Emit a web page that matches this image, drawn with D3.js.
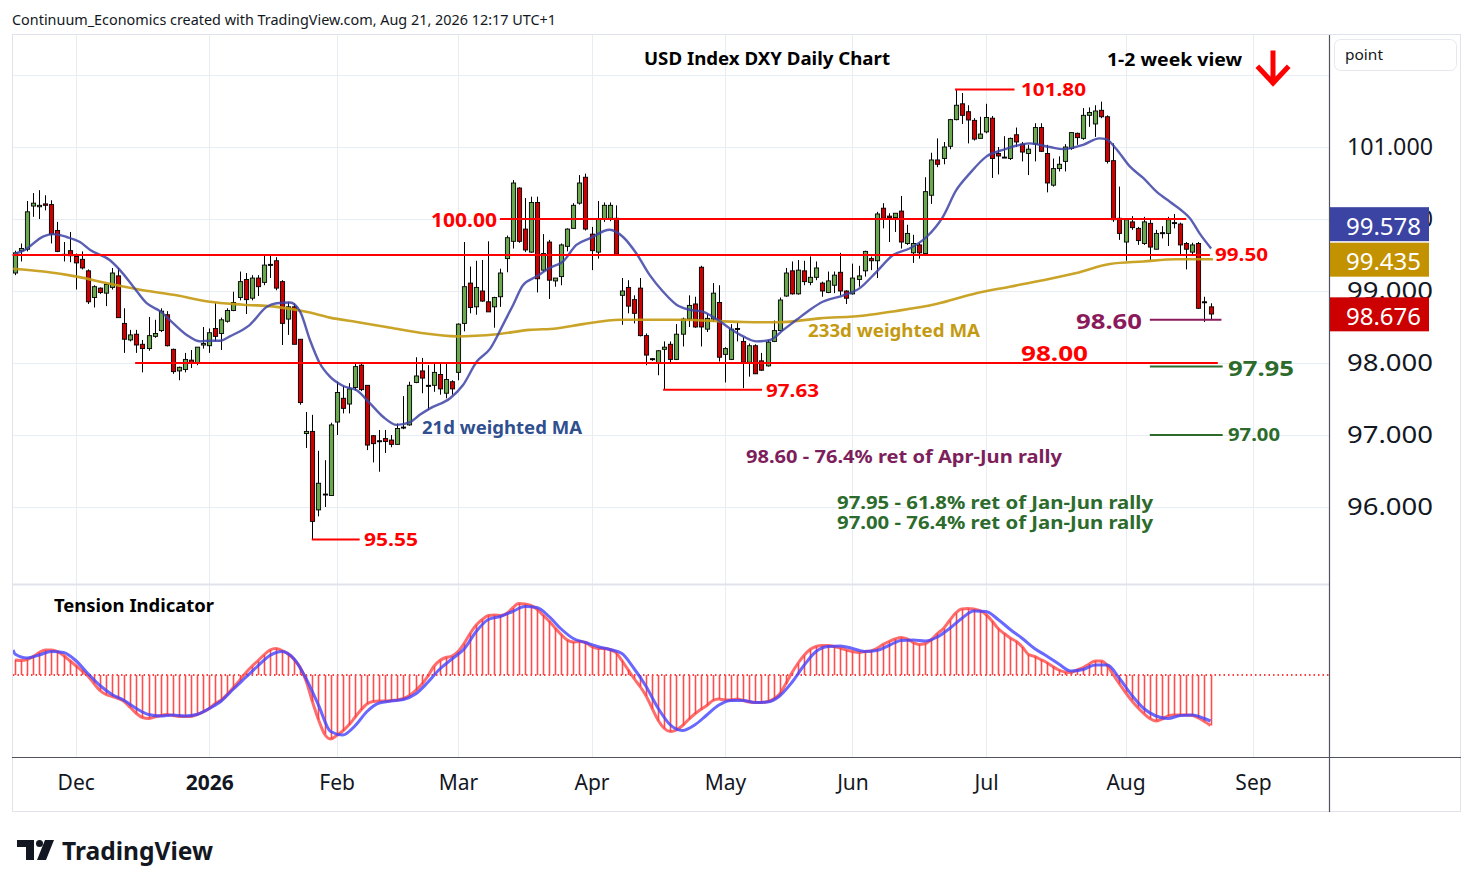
<!DOCTYPE html>
<html><head><meta charset="utf-8">
<script src="https://cdn.jsdelivr.net/npm/d3@7"></script>
<style>body{margin:0;background:#fff}svg{display:block}</style>
</head><body>
<svg id="c" width="1474" height="887"></svg>
<script>
// ---------- DATA ----------
const monthLabels = ["Dec","2026","Feb","Mar","Apr","May","Jun","Jul","Aug","Sep"];
const monthBars   = [10,32,53,73,95,117,138,160,183,204];
const priceTicks  = [96,97,98,99,100,101];
const gridPrices  = [96,97,98,99,100,101,102];

const opens = [99.25,99.56,99.58,100.18,100.17,100.21,100.20,99.84,99.51,99.56,
99.48,99.44,99.28,98.91,99.04,98.97,99.05,99.21,98.55,98.32,
98.40,98.26,98.20,98.37,98.45,98.67,98.19,97.89,97.91,98.04,
98.00,98.25,98.24,98.48,98.41,98.58,98.73,98.91,99.16,98.90,
99.18,99.12,99.37,99.42,99.13,98.61,98.78,98.33,97.02,97.05,
95.96,96.18,96.16,97.18,97.51,97.43,97.66,97.97,97.69,96.99,
96.92,96.95,96.93,96.87,97.10,97.14,97.73,97.89,97.69,97.69,
97.84,97.58,97.74,97.87,98.55,99.11,98.78,99.00,98.85,98.78,
98.92,99.45,99.69,100.43,99.86,99.54,100.23,99.29,99.68,99.14,
99.20,99.62,99.87,100.22,100.58,99.79,99.54,100.00,100.01,100.01,
98.94,99.05,98.88,99.04,98.38,98.06,98.00,98.19,98.26,98.05,
98.40,98.61,98.82,99.33,98.47,98.61,98.84,98.12,98.05,98.48,
98.30,98.01,98.24,98.03,97.96,98.30,98.45,98.93,99.28,98.96,
99.28,99.12,99.19,99.11,98.98,99.08,99.26,99.00,98.96,99.16,
99.28,99.45,99.42,100.15,100.04,100.02,100.11,99.66,99.53,99.64,
99.52,100.33,100.82,100.84,101.01,101.38,101.60,101.49,101.37,101.12,
101.21,101.40,100.91,100.86,100.84,101.17,101.04,100.91,101.04,101.27,
100.91,100.47,100.70,100.80,100.98,101.19,101.12,101.44,101.32,101.51,
101.42,100.81,100.01,99.68,99.96,99.87,99.66,99.94,99.58,99.81,
99.80,99.94,99.93,99.66,99.54,99.66,98.85,98.78];
const highs = [99.56,99.66,100.25,100.36,100.40,100.33,100.26,99.96,99.68,99.82,
99.52,99.55,99.30,99.08,99.05,99.10,99.32,99.32,98.76,98.46,
98.46,98.32,98.64,98.60,98.76,98.72,98.20,97.95,98.14,98.18,
98.22,98.50,98.48,98.83,98.63,98.76,98.99,99.27,99.25,99.22,
99.22,99.50,99.50,99.47,99.15,98.85,98.83,98.33,97.32,97.28,
96.78,96.65,97.17,97.74,97.68,97.72,97.99,97.99,97.69,97.00,
97.07,97.07,97.00,97.16,97.54,97.74,98.08,98.07,97.97,97.99,
97.99,97.99,97.76,98.55,99.68,99.34,99.42,99.43,99.69,98.92,
99.31,99.77,100.54,100.44,100.29,100.31,100.31,99.79,99.71,99.18,
99.66,99.87,100.22,100.61,100.63,99.89,100.25,100.23,100.23,100.19,
99.18,99.15,98.94,99.18,98.41,98.07,98.18,98.30,98.30,98.54,
98.63,98.94,98.92,99.35,98.68,99.11,99.08,98.22,98.54,98.56,
98.36,98.27,98.26,98.14,98.32,98.59,98.91,99.32,99.41,99.43,
99.42,99.48,99.41,99.13,99.27,99.27,99.53,99.01,99.38,99.35,
99.56,99.48,100.10,100.22,100.08,100.08,100.32,99.92,99.78,99.67,
100.58,100.92,101.12,101.07,101.39,101.80,101.75,101.58,101.40,101.42,
101.60,101.43,101.00,101.15,101.13,101.27,101.07,101.03,101.33,101.33,
101.03,100.84,100.87,101.04,101.20,101.20,101.54,101.55,101.58,101.63,
101.44,101.05,100.45,100.00,100.04,99.89,100.03,99.99,99.85,99.90,
100.03,100.07,99.95,99.68,99.67,99.68,98.92,98.83];
const lows = [99.22,99.41,99.55,100.03,100.00,100.12,99.66,99.54,99.41,99.40,
99.02,99.30,98.82,98.77,98.96,98.79,99.02,98.63,98.14,98.30,
98.14,97.87,98.17,98.35,98.43,98.23,97.85,97.76,97.87,97.93,
97.97,98.20,98.14,98.30,98.18,98.56,98.72,98.87,98.68,98.87,
98.93,99.08,99.18,99.01,98.25,98.39,98.26,97.42,96.82,95.55,
95.87,96.00,96.16,97.00,97.30,97.30,97.62,97.61,96.79,96.62,
96.49,96.75,96.83,96.87,97.08,97.13,97.72,97.58,97.35,97.60,
97.56,97.51,97.56,97.76,98.44,98.69,98.67,98.85,98.71,98.49,
98.78,99.26,99.59,99.67,99.54,99.53,98.98,99.27,98.89,99.06,
99.08,99.55,99.87,100.20,99.84,99.29,99.45,99.96,99.97,99.50,
98.53,98.69,98.55,98.37,97.97,98.03,97.83,97.63,98.00,98.04,
98.23,98.50,98.49,98.23,98.43,98.57,98.02,97.73,98.04,98.30,
97.65,97.81,97.85,97.89,97.95,98.29,98.45,98.92,98.95,98.95,
99.08,99.08,99.15,98.92,98.97,98.97,98.94,98.82,98.95,99.06,
99.20,99.29,99.18,99.87,99.68,99.82,99.59,99.64,99.39,99.45,
99.51,100.21,100.72,100.76,100.97,101.37,101.32,101.05,101.09,101.12,
101.19,100.57,100.62,100.85,100.82,101.00,100.80,100.61,100.80,100.93,
100.37,100.45,100.66,100.66,100.96,101.03,101.10,101.28,101.14,101.40,
100.77,99.96,99.71,99.42,99.85,99.64,99.64,99.43,99.58,99.73,
99.625,99.87,99.50,99.30,99.50,98.75,98.57,98.60];
const closes = [99.53,99.59,100.10,100.22,100.19,100.19,99.79,99.55,99.50,99.49,
99.39,99.32,98.85,99.06,98.98,99.09,99.25,98.63,98.33,98.39,
98.25,98.20,98.38,98.41,98.72,98.24,97.88,97.94,98.05,98.00,
98.22,98.27,98.42,98.37,98.60,98.73,98.84,99.13,98.88,99.18,
99.06,99.36,99.37,99.04,98.55,98.78,98.26,97.45,97.05,95.80,
96.33,96.17,97.14,97.59,97.37,97.64,97.95,97.63,96.86,96.88,
96.91,96.91,96.87,97.09,97.11,97.69,97.82,97.79,97.69,97.87,
97.64,97.77,97.64,98.54,99.06,98.77,99.05,98.86,98.71,98.91,
99.25,99.74,100.50,99.69,99.57,100.23,99.17,99.52,99.15,99.18,
99.64,99.86,100.19,100.50,99.86,99.56,100.00,100.19,100.19,99.51,
99.00,98.79,98.69,98.38,98.11,98.05,98.17,98.22,98.05,98.40,
98.61,98.80,98.50,98.50,98.62,98.97,98.08,98.20,98.47,98.47,
98.01,98.24,97.85,97.90,98.29,98.45,98.875,99.25,98.96,99.29,
99.13,99.19,99.32,99.00,99.14,99.22,99.00,98.90,99.18,99.21,
99.55,99.42,100.07,100.01,100.02,100.08,99.68,99.80,99.66,99.53,
100.38,100.82,100.76,101.00,101.38,101.58,101.44,101.375,101.11,101.18,
101.41,100.84,100.875,100.86,101.12,101.07,100.93,100.97,101.27,100.94,
100.50,100.70,100.76,101.00,101.20,101.13,101.44,101.48,101.50,101.42,
100.80,99.99,99.80,99.99,99.88,99.70,99.96,99.61,99.80,99.81,
99.99,99.95,99.64,99.58,99.64,98.76,98.85,98.68];

// 21d weighted MA (bar position, value)
const ma21Bars = [0,1.4,4.7,6.3,8.5,10.7,12.4,15.6,17.3,19.5,21.7,23.9,26.1,28.3,30.5,32.1,33.8,35.4,38.7,41.5,43.1,45.3,47,48.6,50.2,51.9,54.1,56.3,58.5,60.7,62.9,65.1,66.7,68.4,71.7,73.8,76.1,78.3,80.4,82.1,83.7,85.9,88.1,90.3,92.5,94.7,98,100.2,102.4,104.6,106.8,109,111.2,113.4,115.6,117.8,120,122.2,124.4,126.6,128.8,131,133.1,136.5,139.2,142,144.7,147.4,150.2,152.9,155.1,157.3,160.1,162.8,165.6,167.2,170.5,172.7,176,178.7,179.8,181.4,183.7,185.9,188.1,190.3,192.5,193.6,195.2,197.1];
const ma21Vals = [99.52,99.56,99.76,99.79,99.75,99.68,99.57,99.43,99.29,99.06,98.83,98.72,98.55,98.39,98.30,98.31,98.31,98.37,98.53,98.78,98.83,98.84,98.71,98.32,98.00,97.81,97.68,97.62,97.44,97.25,97.14,97.18,97.28,97.37,97.51,97.69,98.02,98.20,98.53,98.81,99.08,99.20,99.32,99.41,99.64,99.73,99.85,99.75,99.52,99.22,98.99,98.81,98.74,98.71,98.61,98.48,98.37,98.30,98.32,98.46,98.60,98.74,98.85,98.94,99.04,99.27,99.50,99.59,99.75,100.03,100.40,100.63,100.87,100.96,101.03,101.05,101.00,100.97,101.03,101.12,101.11,100.98,100.73,100.57,100.38,100.24,100.10,100.01,99.80,99.59];

// 233d weighted MA
const ma233Bars = [-0.3,4.7,10.2,15.6,21.1,26.6,32.1,37.6,43.1,48.6,51.9,56.3,61.2,66.7,72.8,79.4,84.8,89.2,93.6,99.7,109,120,125.5,132.6,140,145,151.8,158.4,163.9,169.4,174.9,180.4,185.9,191.4,197.4];
const ma233Vals = [99.31,99.27,99.20,99.10,99.01,98.94,98.85,98.81,98.78,98.70,98.63,98.57,98.50,98.42,98.37,98.40,98.46,98.48,98.54,98.60,98.60,98.57,98.565,98.62,98.66,98.72,98.82,98.97,99.06,99.15,99.25,99.375,99.41,99.44,99.44];

// Tension indicator (per bar) and its signal line
const tension = [0.30,0.29,0.31,0.37,0.45,0.50,0.50,0.47,0.39,0.29,
0.19,0.09,-0.02,-0.17,-0.31,-0.39,-0.43,-0.47,-0.53,-0.65,
-0.77,-0.85,-0.87,-0.84,-0.81,-0.79,-0.81,-0.83,-0.83,-0.83,
-0.79,-0.74,-0.67,-0.57,-0.50,-0.38,-0.25,-0.11,0.04,0.17,
0.28,0.40,0.50,0.53,0.49,0.42,0.31,0.15,-0.13,-0.53,
-0.89,-1.18,-1.28,-1.21,-1.12,-1.00,-0.85,-0.70,-0.58,-0.53,
-0.52,-0.52,-0.51,-0.50,-0.47,-0.41,-0.31,-0.19,-0.03,0.17,
0.29,0.35,0.38,0.47,0.63,0.83,1.00,1.11,1.19,1.20,
1.19,1.23,1.34,1.43,1.42,1.39,1.32,1.20,1.08,0.94,
0.81,0.70,0.66,0.67,0.65,0.57,0.53,0.53,0.51,0.45,
0.29,0.11,-0.07,-0.23,-0.42,-0.67,-0.91,-1.07,-1.13,-1.10,
-1.01,-0.89,-0.78,-0.69,-0.61,-0.51,-0.48,-0.50,-0.50,-0.48,
-0.51,-0.54,-0.55,-0.55,-0.53,-0.48,-0.38,-0.18,0.04,0.23,
0.39,0.51,0.57,0.59,0.59,0.57,0.54,0.50,0.47,0.45,
0.47,0.48,0.53,0.61,0.67,0.72,0.75,0.72,0.65,0.61,
0.63,0.71,0.83,0.93,1.09,1.24,1.32,1.33,1.32,1.29,
1.21,1.08,0.93,0.83,0.74,0.67,0.56,0.41,0.37,0.31,
0.25,0.17,0.10,0.06,0.05,0.10,0.15,0.22,0.28,0.28,
0.19,0.00,-0.18,-0.35,-0.51,-0.65,-0.77,-0.87,-0.92,-0.88,
-0.82,-0.80,-0.80,-0.80,-0.81,-0.86,-0.93,-1.01];
const signalBars = [-0.3,0,2,4,6,8,10,12,14,16,18,20,22,24,26,28,30,32,34,36,38,40,42,44,46,48,50,52,54,56,58,60,62,64,66,68,70,72,74,76,78,80,82,84,86,88,90,92,94,96,98,100,102,104,106,108,110,112,114,116,118,120,122,124,126,128,130,132,134,136,138,140,142,144,146,148,150,152,154,156,158,160,162,164,166,168,170,172,174,176,178,180,182,184,186,188,190,192,194,196,197];
const signalVals = [0.50,0.42,0.34,0.40,0.47,0.45,0.29,0.03,-0.21,-0.39,-0.51,-0.67,-0.79,-0.82,-0.80,-0.82,-0.79,-0.67,-0.52,-0.28,-0.05,0.18,0.39,0.47,0.32,-0.08,-0.60,-1.13,-1.20,-1.02,-0.73,-0.56,-0.52,-0.49,-0.38,-0.15,0.12,0.32,0.52,0.87,1.11,1.17,1.27,1.37,1.35,1.17,0.92,0.73,0.65,0.57,0.51,0.43,0.13,-0.23,-0.67,-1.00,-1.11,-1.00,-0.80,-0.60,-0.51,-0.51,-0.55,-0.54,-0.42,-0.15,0.19,0.47,0.57,0.58,0.53,0.47,0.49,0.59,0.69,0.70,0.68,0.76,0.93,1.13,1.28,1.27,1.11,0.91,0.73,0.53,0.38,0.22,0.08,0.11,0.20,0.20,-0.07,-0.40,-0.67,-0.82,-0.87,-0.81,-0.80,-0.87,-0.92];

// Horizontal levels: [price, fromBar, toBar, color]
const levels = [
  [100.00, 79.9, 193.0, "#ff0000"],
  [99.50, -0.4, 196.9, "#ff0000"],
  [98.00, 19.8, 198.2, "#ff0000"],
  [101.80, 154.9, 164.7, "#ff0000"],
  [95.55, 48.9, 56.8, "#ff0000"],
  [97.63, 106.8, 123.1, "#ff0000"],
  [98.60, 187.0, 198.8, "#8b1a5c"],
  [97.95, 187.0, 199.0, "#2c6b2c"],
  [97.00, 187.0, 199.0, "#2c6b2c"]
];
const lastPrice = 98.676, ma21Last = 99.578, ma233Last = 99.435;

// ---------- DRAWING ----------
const svg = d3.select("#c");
const FONT = "'Noto Sans', 'DejaVu Sans', sans-serif";
const x  = d3.scaleLinear().domain([0, 204]).range([15, 1253]);
const y  = d3.scaleLinear().domain([96, 101]).range([507, 147]);
const yT = d3.scaleLinear().domain([-1.5, 1.5]).range([750, 600]);
const L = 13, R = 1329.5, TOP = 35, MB = 583, TT = 585, TB = 757.5;

svg.append("rect").attr("width",1474).attr("height",887).attr("fill","#fff");
const defs = svg.append("defs");
defs.append("clipPath").attr("id","cm").append("rect").attr("x",L).attr("y",TOP).attr("width",R-L).attr("height",MB-TOP);
defs.append("clipPath").attr("id","ct").append("rect").attr("x",L).attr("y",TT).attr("width",R-L).attr("height",TB-TT);

// grid
const grid = svg.append("g").attr("stroke","#e8edf3").attr("stroke-width",1);
gridPrices.forEach(p => grid.append("line").attr("x1",L).attr("x2",R).attr("y1",Math.round(y(p))+0.5).attr("y2",Math.round(y(p))+0.5));
monthBars.forEach(b => grid.append("line").attr("x1",Math.round(x(b))+0.5).attr("x2",Math.round(x(b))+0.5).attr("y1",TOP).attr("y2",TB));

// frame
svg.append("rect").attr("x",12.5).attr("y",34.5).attr("width",1448).attr("height",777).attr("fill","none").attr("stroke","#e0e3eb");
svg.append("line").attr("x1",L).attr("x2",R).attr("y1",584.5).attr("y2",584.5).attr("stroke","#e0e3eb").attr("stroke-width",2);
svg.append("line").attr("x1",12).attr("x2",1461).attr("y1",TB).attr("y2",TB).attr("stroke","#50535e").attr("stroke-width",1.2);
svg.append("line").attr("x1",R).attr("x2",R).attr("y1",35).attr("y2",812).attr("stroke","#50535e").attr("stroke-width",1.2);

// candles
const bars = d3.range(opens.length);
const cg = svg.append("g").attr("clip-path","url(#cm)");
cg.selectAll("line.w").data(bars).join("line")
  .attr("x1", i => Math.round(x(i))+0.5).attr("x2", i => Math.round(x(i))+0.5)
  .attr("y1", i => y(highs[i])).attr("y2", i => y(lows[i]))
  .attr("stroke","#000").attr("stroke-width",1);
cg.selectAll("rect.b").data(bars).join("rect")
  .attr("x", i => Math.round(x(i)) - 1.6).attr("width", 4.2)
  .attr("y", i => Math.min(y(opens[i]), y(closes[i])))
  .attr("height", i => Math.max(1, Math.abs(y(opens[i]) - y(closes[i]))))
  .attr("fill", i => Math.abs(closes[i]-opens[i]) < 0.015 ? "#000" : (closes[i] > opens[i] ? "#6aa84f" : "#cc0000"))
  .attr("stroke","#000").attr("stroke-width",0.9);

// moving averages
const curve = d3.line().curve(d3.curveMonotoneX);
const mg = svg.append("g").attr("clip-path","url(#cm)").attr("fill","none");
mg.append("path").attr("d", curve(ma233Bars.map((b,i)=>[x(b), y(ma233Vals[i])])))
  .attr("stroke","#c49a12").attr("stroke-width",2.6).attr("stroke-opacity",0.9);
mg.append("path").attr("d", curve(ma21Bars.map((b,i)=>[x(b), y(ma21Vals[i])])))
  .attr("stroke","#3d43a6").attr("stroke-width",2.4).attr("stroke-opacity",0.85);

// levels
const lg = svg.append("g");
levels.forEach(([p,a,b,c]) => {
  lg.append("line").attr("x1",x(a)).attr("x2",x(b)).attr("y1",y(p)).attr("y2",y(p))
    .attr("stroke",c).attr("stroke-width",2);
});

// text helper
function txt(s, px, py, size, color, weight, width, anchor) {
  const t = svg.append("text").attr("x",px).attr("y",py).text(s)
    .attr("font-family",FONT).attr("font-size",size).attr("fill",color)
    .attr("font-weight",weight||"normal").attr("dominant-baseline","central")
    .attr("text-anchor",anchor||"start");
  if (width) t.attr("textLength",width).attr("lengthAdjust","spacingAndGlyphs");
  return t;
}

// header & titles
txt("Continuum_Economics created with TradingView.com, Aug 21, 2026 12:17 UTC+1", 12, 19, 14, "#131722", "normal", 544);
txt("USD Index DXY Daily Chart", 644, 58, 17, "#000", "bold", 246);
txt("1-2 week view", 1107, 59, 17, "#000", "bold", 135);
// arrow
svg.append("path").attr("d","M1273,53 L1273,82 M1259,68 L1273,83 L1287,68")
  .attr("fill","none").attr("stroke","#ff0000").attr("stroke-width",5).attr("stroke-linecap","square");

// level labels
txt("100.00", 431, y(100)+1, 19, "#ff0000", "bold", 66);
txt("99.50", 1215, y(99.5)-1, 18, "#ff0000", "bold", 53);
txt("98.00", 1021, y(98)-11, 22, "#ff0000", "bold", 67);
txt("101.80", 1021, y(101.80), 18, "#ff0000", "bold", 65);
txt("95.55", 364, y(95.55), 18, "#ff0000", "bold", 54);
txt("97.63", 766, y(97.63), 18, "#ff0000", "bold", 53);
txt("98.60", 1076, y(98.60), 22, "#8b1a5c", "bold", 66);
txt("97.95", 1228, y(97.95), 22, "#2c6b2c", "bold", 66);
txt("97.00", 1228, y(97.00)-1, 17, "#2c6b2c", "bold", 52);
txt("21d weighted MA", 422, 427, 17, "#2f4f8f", "bold", 160);
txt("233d weighted MA", 808, 330, 18, "#c49a12", "bold", 172);
txt("98.60 - 76.4% ret of Apr-Jun rally", 746, 456, 18, "#7d1f5c", "bold", 316);
txt("97.95 - 61.8% ret of Jan-Jun rally", 837, 502, 17, "#2c6b2c", "bold", 316);
txt("97.00 - 76.4% ret of Jan-Jun rally", 837, 522, 17, "#2c6b2c", "bold", 316);

// tension pane
const tg = svg.append("g").attr("clip-path","url(#ct)");
tg.append("line").attr("x1",L).attr("x2",R).attr("y1",yT(0)).attr("y2",yT(0))
  .attr("stroke","#ff0000").attr("stroke-width",1.3).attr("stroke-dasharray","1.5,3");
tg.selectAll("line.h").data(bars).join("line")
  .attr("x1", i => Math.round(x(i))+0.5).attr("x2", i => Math.round(x(i))+0.5)
  .attr("y1", yT(0)).attr("y2", i => yT(tension[i]))
  .attr("stroke","#ff4d4d").attr("stroke-width",1.6);
tg.append("path").attr("fill","none").attr("d", curve(bars.map(i => [x(i), yT(tension[i])])))
  .attr("stroke","#ff3b3b").attr("stroke-width",3).attr("stroke-opacity",0.75);
tg.append("path").attr("fill","none").attr("d", curve(signalBars.map((b,i) => [x(b), yT(signalVals[i])])))
  .attr("stroke","#4444ff").attr("stroke-width",3).attr("stroke-opacity",0.8);
txt("Tension Indicator", 54, 605, 17, "#000", "bold", 160);

// price axis
const pa = svg.append("g").attr("transform","translate(1347,0)")
  .call(d3.axisRight(y).tickValues(priceTicks).tickFormat(d3.format(".3f")).tickSize(0).tickPadding(0));
pa.select(".domain").remove();
pa.selectAll("text").attr("font-family",FONT).attr("font-size",24).attr("fill","#131722")
  .attr("textLength",86).attr("lengthAdjust","spacingAndGlyphs");

// value badges
const yb2 = y(ma233Last);
const yb1 = Math.min(y(ma21Last), yb2 - 35.5);
[[ma21Last, yb1, "#3c44a3"], [ma233Last, yb2, "#c39200"], [lastPrice, y(lastPrice), "#cc0000"]].forEach(([v,cy,col]) => {
  svg.append("rect").attr("x",1330).attr("y",cy-17).attr("width",99).attr("height",34).attr("fill",col);
  txt(v.toFixed(3), 1346, cy+1, 24, "#fff", "normal", 75);
});

// "point" box
svg.append("rect").attr("x",1334.5).attr("y",39.5).attr("width",122).attr("height",31).attr("rx",6)
  .attr("fill","#fff").attr("stroke","#e6e8ee");
txt("point", 1345, 54, 14, "#131722", "normal", 38);

// time axis
const ta = svg.append("g").attr("transform","translate(0,775)")
  .call(d3.axisBottom(x).tickValues(monthBars).tickFormat((d,i) => monthLabels[i]).tickSize(0).tickPadding(0));
ta.select(".domain").remove();
ta.selectAll("text").attr("font-family",FONT).attr("font-size",21).attr("fill","#131722")
  .attr("font-weight",(d,i) => monthLabels[i] === "2026" ? "bold" : "normal");

// TradingView logo
svg.append("path").attr("d","M17,840 H34 V860 H26 V847 H17 Z").attr("fill","#131722");
svg.append("circle").attr("cx",39.5).attr("cy",843.5).attr("r",3.5).attr("fill","#131722");
svg.append("path").attr("d","M45,840 H54 L46,860 H37 Z").attr("fill","#131722");
txt("TradingView", 62, 850, 25, "#131722", "bold", 151);
</script>
</body></html>
